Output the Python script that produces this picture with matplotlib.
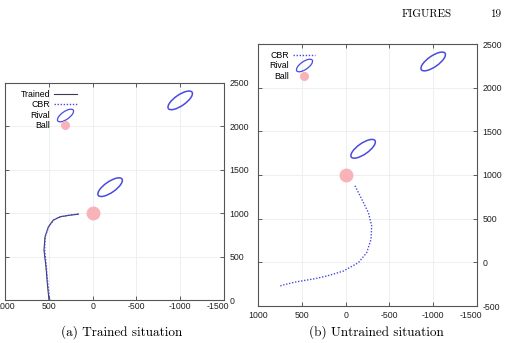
import numpy as np
import matplotlib
matplotlib.use('Agg')
from matplotlib import pyplot as plt
from matplotlib.patches import Ellipse
from matplotlib.lines import Line2D
from matplotlib.markers import MarkerStyle
from matplotlib.transforms import ScaledTranslation

plt.rcParams['axes.unicode_minus'] = False

# (a) trained situation
trained_x = [498, 517, 532, 555, 543, 505, 449, 372, 258, 163]
trained_y = [0, 192, 383, 575, 728, 843, 920, 958, 977, 989]
cbr_a_x = [490, 512, 528, 548, 540, 500, 440, 360, 250, 150]
cbr_a_y = [0, 195, 380, 580, 735, 848, 925, 962, 980, 992]

# (b) untrained situation
cbr_b_x = [-107, -184, -260, -298, -290, -241, -146, 25, 216, 349, 578, 730, 745]
cbr_b_y = [877, 724, 570, 418, 264, 111, -4, -100, -157, -187, -226, -264, -272]

# rivals and ball (same in both situations)
rival_x = [-200, -1000]
rival_y = [1300, 2300]
rival_w = [330, 330]
rival_h = [125, 125]
rival_angle = [-35, -35]
ball_x = [0]
ball_y = [1000]

xticks = [1000, 500, 0, -500, -1000, -1500]
yticks_a = [0, 500, 1000, 1500, 2000, 2500]
yticks_b = [-500, 0, 500, 1000, 1500, 2000, 2500]

blue = '#4a4ae0'
pink = '#f7b3b8'
trained_col = '#3a3a5a'

fig = plt.figure(figsize=(5.05, 3.43), dpi=100)
fig.patch.set_facecolor('white')

def style(ax, yticks, ylim, xpad):
	ax.set_xlim(1000, -1500)
	ax.set_ylim(*ylim)
	ax.set_xticks(xticks)
	ax.set_yticks(yticks)
	ax.yaxis.tick_right()
	ax.tick_params(direction='in', length=3, width=0.6, colors='#444444', labelsize=6.3,
				   top=True, bottom=True, left=True, right=True, labelcolor='#222222')
	ax.tick_params(axis='x', pad=xpad)
	ax.tick_params(axis='y', pad=4)
	for lab in ax.get_xticklabels() + ax.get_yticklabels():
		lab.set_family('Liberation Sans')
	# gnuplot puts the last x label a bit to the left of its tick
	last = ax.get_xticklabels()[-1]
	last.set_transform(last.get_transform() + ScaledTranslation(-6/100, 0, fig.dpi_scale_trans))
	for s in ax.spines.values():
		s.set_color('#555555')
		s.set_linewidth(0.8)
	ax.grid(True, color='#ececec', lw=0.6)
	ax.set_axisbelow(True)

def draw_common(ax):
	for cx, cy, w, h, a in zip(rival_x, rival_y, rival_w, rival_h, rival_angle):
		ax.add_patch(Ellipse((cx, cy), w, h, angle=a, fill=False, ec=blue, lw=1.1))
	ax.plot(ball_x, ball_y, 'o', color=pink, ms=9)

# rival legend marker: small tilted ellipse
e = Ellipse((0, 0), 1.0, 0.42, angle=35)
rival_path = e.get_patch_transform().transform_path(e.get_path())
rival_handle = Line2D([], [], ls='none', marker=MarkerStyle(rival_path), ms=12,
					  mfc='none', mec=blue, mew=0.9)
ball_handle = Line2D([], [], ls='none', marker='o', ms=5.5, color=pink)
cbr_handle = Line2D([], [], color=blue, lw=1, ls=(0, (1, 1.2)))
trained_handle = Line2D([], [], color=trained_col, lw=0.8)

# (a)
ax1 = fig.add_axes([5/505, 1-300/343, 219/505, 217/343])
style(ax1, yticks_a, (0, 2500), 1.5)
draw_common(ax1)
ax1.plot(trained_x, trained_y, '-', color=trained_col, lw=0.8)
ax1.plot(cbr_a_x, cbr_a_y, color=blue, lw=1, ls=(0, (1, 1.2)))
ax1.legend([trained_handle, cbr_handle, rival_handle, ball_handle],
		   ['Trained', 'CBR', 'Rival', 'Ball'], loc='upper left', bbox_to_anchor=(0.04, 1.0),
		   frameon=False, markerfirst=False, handlelength=2.6, labelspacing=0.15,
		   borderpad=0.3, handletextpad=0.4, prop={'family': 'Liberation Sans', 'size': 6.3})

# (b)
ax2 = fig.add_axes([258/505, 1-306/343, 219/505, 262/343])
style(ax2, yticks_b, (-500, 2500), 3.5)
draw_common(ax2)
ax2.plot(cbr_b_x, cbr_b_y, color=blue, lw=1, ls=(0, (1, 1.2)))
ax2.legend([cbr_handle, rival_handle, ball_handle],
		   ['CBR', 'Rival', 'Ball'], loc='upper left', bbox_to_anchor=(0.02, 1.0),
		   frameon=False, markerfirst=False, handlelength=2.6, labelspacing=0.15,
		   borderpad=0.3, handletextpad=0.4, prop={'family': 'Liberation Sans', 'size': 6.3})

# captions and page header
fig.text(122/505, 1-332/343, '(a) Trained situation', ha='center', va='center',
		 family='cmr10', fontsize=9.5)
fig.text(376/505, 1-332/343, '(b) Untrained situation', ha='center', va='center',
		 family='cmr10', fontsize=9.5)
fig.text(427/505, 1-14/343, 'FIGURES', ha='center', va='center', family='cmr10', fontsize=8)
fig.text(490/505, 1-14/343, '19', ha='left', va='center', family='cmr10', fontsize=8)

fig.savefig('out.png', dpi=100)
